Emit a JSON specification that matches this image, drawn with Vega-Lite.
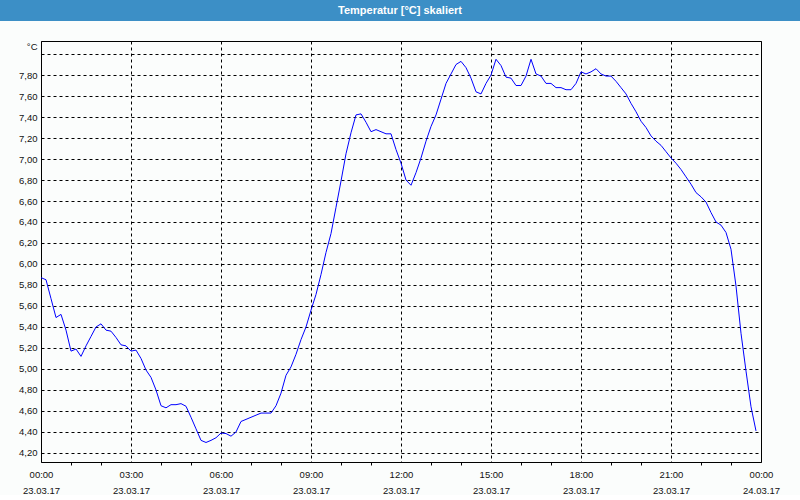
{
  "$schema": "https://vega.github.io/schema/vega-lite/v6.json",
  "background": "#fbfdfc",
  "padding": 0,
  "spacing": 19,
  "config": {
    "view": {"stroke": "#000000", "strokeWidth": 1},
    "axis": {"labelFont": "Liberation Sans", "labelFontSize": 9.5, "labelColor": "#111111", "titleFont": "Liberation Sans", "titleFontSize": 9.5, "titleColor": "#111111", "titleFontWeight": "normal"}
  },
  "vconcat": [
    {
      "width": 800,
      "height": 21,
      "view": {"fill": "#3c8fc6", "stroke": null},
      "data": {"values": [{"title": "Temperatur [°C] skaliert"}]},
      "mark": {"type": "text", "color": "#ffffff", "font": "Liberation Sans", "fontSize": 11, "fontWeight": "bold", "baseline": "middle", "align": "center"},
      "encoding": {"text": {"field": "title", "type": "nominal"}}
    },
    {
      "spacing": 0,
      "hconcat": [
        {
          "width": 1,
          "height": 421,
          "view": {"stroke": null},
          "data": {"values": []},
          "mark": {"type": "point", "opacity": 0},
          "encoding": {}
        },
        {
          "width": 720,
          "height": 421,
          "view": {"stroke": "#000000"},
          "data": {"values": [
            {"min": 0, "v": 5.87}, {"min": 10, "v": 5.85}, {"min": 20, "v": 5.67}, {"min": 30, "v": 5.49}, {"min": 40, "v": 5.52}, {"min": 50, "v": 5.37},
            {"min": 60, "v": 5.17}, {"min": 70, "v": 5.19}, {"min": 80, "v": 5.12}, {"min": 90, "v": 5.22}, {"min": 100, "v": 5.31}, {"min": 110, "v": 5.40},
            {"min": 120, "v": 5.43}, {"min": 130, "v": 5.37}, {"min": 140, "v": 5.36}, {"min": 150, "v": 5.30}, {"min": 160, "v": 5.23}, {"min": 170, "v": 5.22},
            {"min": 180, "v": 5.17}, {"min": 190, "v": 5.18}, {"min": 200, "v": 5.10}, {"min": 210, "v": 4.99}, {"min": 220, "v": 4.92}, {"min": 230, "v": 4.80},
            {"min": 240, "v": 4.65}, {"min": 250, "v": 4.63}, {"min": 260, "v": 4.66}, {"min": 270, "v": 4.66}, {"min": 280, "v": 4.67}, {"min": 290, "v": 4.645},
            {"min": 300, "v": 4.54}, {"min": 310, "v": 4.43}, {"min": 320, "v": 4.32}, {"min": 330, "v": 4.30}, {"min": 340, "v": 4.32}, {"min": 350, "v": 4.345},
            {"min": 360, "v": 4.39}, {"min": 370, "v": 4.385}, {"min": 380, "v": 4.36}, {"min": 390, "v": 4.40}, {"min": 400, "v": 4.50}, {"min": 410, "v": 4.52},
            {"min": 420, "v": 4.54}, {"min": 430, "v": 4.56}, {"min": 440, "v": 4.58}, {"min": 450, "v": 4.58}, {"min": 460, "v": 4.58}, {"min": 470, "v": 4.65},
            {"min": 480, "v": 4.77}, {"min": 490, "v": 4.94}, {"min": 500, "v": 5.02}, {"min": 510, "v": 5.14}, {"min": 520, "v": 5.28}, {"min": 530, "v": 5.40},
            {"min": 540, "v": 5.56}, {"min": 550, "v": 5.71}, {"min": 560, "v": 5.90}, {"min": 570, "v": 6.11}, {"min": 580, "v": 6.29}, {"min": 590, "v": 6.54},
            {"min": 600, "v": 6.79}, {"min": 610, "v": 7.05}, {"min": 620, "v": 7.25}, {"min": 630, "v": 7.42}, {"min": 640, "v": 7.43}, {"min": 650, "v": 7.35},
            {"min": 660, "v": 7.26}, {"min": 670, "v": 7.28}, {"min": 680, "v": 7.26}, {"min": 690, "v": 7.24}, {"min": 700, "v": 7.24}, {"min": 710, "v": 7.09},
            {"min": 720, "v": 6.96}, {"min": 730, "v": 6.80}, {"min": 740, "v": 6.75}, {"min": 750, "v": 6.87}, {"min": 760, "v": 7.01}, {"min": 770, "v": 7.17},
            {"min": 780, "v": 7.31}, {"min": 790, "v": 7.42}, {"min": 800, "v": 7.57}, {"min": 810, "v": 7.72}, {"min": 820, "v": 7.81}, {"min": 830, "v": 7.90},
            {"min": 840, "v": 7.93}, {"min": 850, "v": 7.87}, {"min": 860, "v": 7.77}, {"min": 870, "v": 7.64}, {"min": 880, "v": 7.62}, {"min": 890, "v": 7.72},
            {"min": 900, "v": 7.80}, {"min": 910, "v": 7.95}, {"min": 920, "v": 7.89}, {"min": 930, "v": 7.78}, {"min": 940, "v": 7.77}, {"min": 950, "v": 7.70},
            {"min": 960, "v": 7.70}, {"min": 970, "v": 7.79}, {"min": 980, "v": 7.95}, {"min": 990, "v": 7.81}, {"min": 1000, "v": 7.79}, {"min": 1010, "v": 7.72},
            {"min": 1020, "v": 7.72}, {"min": 1030, "v": 7.68}, {"min": 1040, "v": 7.68}, {"min": 1050, "v": 7.66}, {"min": 1060, "v": 7.66}, {"min": 1070, "v": 7.72},
            {"min": 1080, "v": 7.83}, {"min": 1090, "v": 7.81}, {"min": 1100, "v": 7.83}, {"min": 1110, "v": 7.86}, {"min": 1120, "v": 7.81}, {"min": 1130, "v": 7.79},
            {"min": 1140, "v": 7.79}, {"min": 1150, "v": 7.74}, {"min": 1160, "v": 7.68}, {"min": 1170, "v": 7.62}, {"min": 1180, "v": 7.53}, {"min": 1190, "v": 7.45},
            {"min": 1200, "v": 7.36}, {"min": 1210, "v": 7.30}, {"min": 1220, "v": 7.22}, {"min": 1230, "v": 7.17}, {"min": 1240, "v": 7.13}, {"min": 1250, "v": 7.07},
            {"min": 1260, "v": 7.01}, {"min": 1270, "v": 6.96}, {"min": 1280, "v": 6.90}, {"min": 1290, "v": 6.83}, {"min": 1300, "v": 6.76}, {"min": 1310, "v": 6.68},
            {"min": 1320, "v": 6.64}, {"min": 1330, "v": 6.59}, {"min": 1340, "v": 6.49}, {"min": 1350, "v": 6.40}, {"min": 1360, "v": 6.37}, {"min": 1370, "v": 6.30},
            {"min": 1380, "v": 6.14}, {"min": 1390, "v": 5.79}, {"min": 1400, "v": 5.34}, {"min": 1410, "v": 4.98}, {"min": 1420, "v": 4.64}, {"min": 1430, "v": 4.41}
          ]},
          "mark": {"type": "line", "color": "#0000ff", "strokeWidth": 1, "clip": true},
          "encoding": {
            "x": {
              "field": "min", "type": "quantitative",
              "scale": {"domain": [0, 1440], "nice": false, "zero": false},
              "axis": {
                "title": null,
                "domain": false,
                "values": [0, 60, 120, 180, 240, 300, 360, 420, 480, 540, 600, 660, 720, 780, 840, 900, 960, 1020, 1080, 1140, 1200, 1260, 1320, 1380, 1440],
                "tickSize": 3,
                "tickColor": "#000000",
                "tickOpacity": {"condition": {"test": "datum.value % 180 === 0", "value": 0}, "value": 1},
                "grid": true,
                "gridColor": "#000000",
                "gridDash": [3, 3],
                "gridWidth": 1,
                "gridOpacity": {"condition": {"test": "datum.value % 180 === 0", "value": 1}, "value": 0},
                "labelExpr": "datum.value % 180 === 0 ? [format(floor(datum.value / 60) % 24, '02d') + ':00', datum.value >= 1440 ? '24.03.17' : '23.03.17'] : ''",
                "labelOverlap": false,
                "labelFlush": false,
                "labelPadding": 4,
                "labelBaseline": "top",
                "labelLineHeight": 16
              }
            },
            "y": {
              "field": "v", "type": "quantitative",
              "scale": {"domain": [4.114, 8.124], "nice": false, "zero": false},
              "axis": {
                "title": "°C",
                "titleAngle": 0,
                "titleX": -4,
                "titleY": 5,
                "titleAlign": "right",
                "titleBaseline": "middle",
                "domain": false,
                "ticks": false,
                "values": [4.2, 4.4, 4.6, 4.8, 5.0, 5.2, 5.4, 5.6, 5.8, 6.0, 6.2, 6.4, 6.6, 6.8, 7.0, 7.2, 7.4, 7.6, 7.8, 8.0],
                "labelExpr": "datum.value > 7.9 ? '' : replace(format(datum.value, '.2f'), '.', ',')",
                "labelPadding": 4,
                "labelOverlap": false,
                "labelFlush": false,
                "minExtent": 39,
                "grid": true,
                "gridColor": "#000000",
                "gridDash": [3, 3],
                "gridWidth": 1
              }
            }
          }
        }
      ]
    }
  ]
}
